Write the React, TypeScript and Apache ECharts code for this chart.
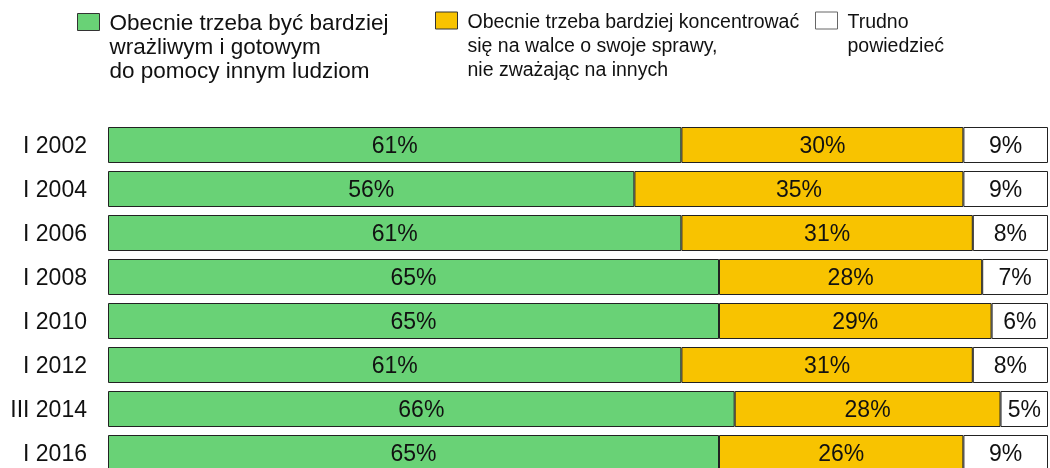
import React, { useEffect, useRef } from "react";
import * as echarts from "echarts";

const categories = ["I 2002", "I 2004", "I 2006", "I 2008", "I 2010", "I 2012", "III 2014", "I 2016"];
const sensitive = [61, 56, 61, 65, 65, 61, 66, 65];
const selfish = [30, 35, 31, 28, 29, 31, 28, 26];
const hardToSay = [9, 9, 8, 7, 6, 8, 5, 9];
const seriesNames = [
  "Obecnie trzeba być bardziej\nwrażliwym i gotowym\ndo pomocy innym ludziom",
  "Obecnie trzeba bardziej koncentrować\nsię na walce o swoje sprawy,\nnie zważając na innych",
  "Trudno\npowiedzieć",
];
const seriesColors = ["#69D276", "#F8C300", "#FFFFFF"];

const FONT = "'Liberation Sans', Arial, sans-serif";

export default function App() {
  const ref = useRef<HTMLDivElement>(null);
  useEffect(() => {
    if (!ref.current) return;
    const chart = echarts.init(ref.current, undefined, { renderer: "svg" });
    const raw = [sensitive, selfish, hardToSay];
    const totals = categories.map((_, i) => sensitive[i] + selfish[i] + hardToSay[i]);

    const legendLefts = [77, 435, 815];
    const legendSizes = [22.5, 19.5, 19.5];
    const legends = seriesNames.map((name, i) => {
      const lines = name.split("\n");
      const n = lines.length;
      const totalLines = 2 * n - 1;
      const top = 22.5 - (totalLines * 24) / 2;
      return {
        data: [name],
        left: legendLefts[i],
        top: top,
        padding: 0,
        orient: "horizontal",
        itemWidth: 22,
        itemHeight: 17,
        icon: "rect",
        selectedMode: false,
        itemStyle: { borderColor: i === 2 ? "#666" : "#333", borderWidth: 1 },
        formatter: (nm: string) => {
          const ls = nm.split("\n");
          const blanks = ls.slice(1).map(() => "{a| }");
          return blanks.concat(ls.map((l) => `{a|${l}}`)).join("\n");
        },
        textStyle: {
          padding: [0, 0, 0, 5],
          rich: {
            a: { fontSize: legendSizes[i], lineHeight: 24, fontFamily: FONT, color: "#111" },
          },
        },
      };
    });

    chart.setOption({
      animation: false,
      legend: legends,
      grid: {
        left: 108,
        right: 2,
        top: 123,
        height: 352,
        containLabel: false,
        outerBoundsMode: "none",
      },
      xAxis: { type: "value", min: 0, max: 100, show: false },
      yAxis: {
        type: "category",
        data: categories,
        inverse: true,
        axisLine: { show: false },
        axisTick: { show: false },
        axisLabel: { fontSize: 23, color: "#111", fontFamily: FONT, margin: 21 },
      },
      series: seriesNames.map((name, s) => ({
        name,
        type: "bar",
        stack: "total",
        barWidth: 36,
        itemStyle: { color: seriesColors[s], borderColor: "#222", borderWidth: 1 },
        label: {
          show: true,
          position: "inside",
          fontSize: 23,
          color: "#111",
          fontFamily: FONT,
          formatter: (p: any) => raw[s][p.dataIndex] + "%",
        },
        data: raw[s].map((v, i) => (v / totals[i]) * 100),
      })),
    });
    return () => chart.dispose();
  }, []);
  return (
    <div
      ref={ref}
      style={{ position: "fixed", left: 0, top: 0, width: 1050, height: 468 }}
    />
  );
}
